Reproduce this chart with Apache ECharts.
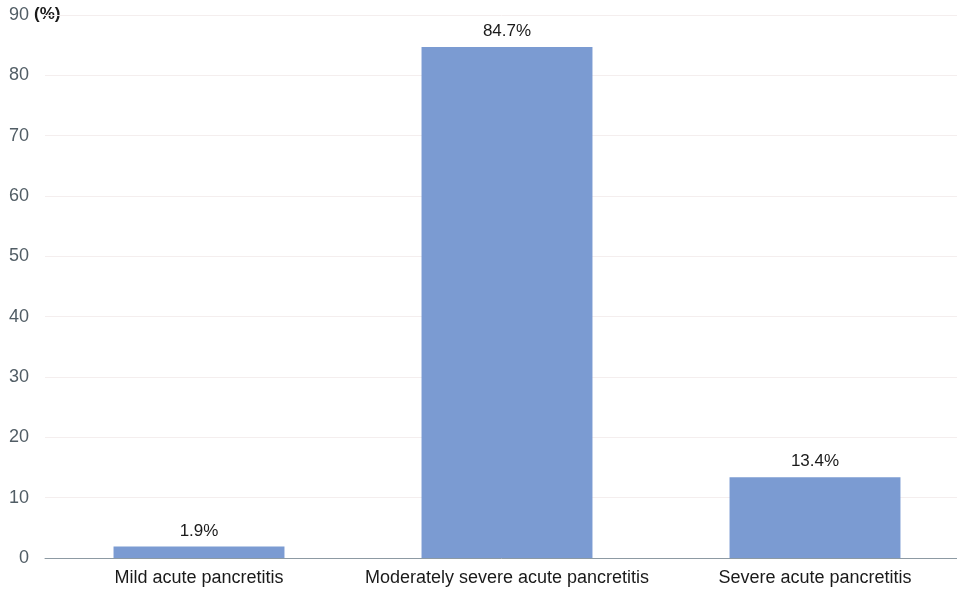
<!DOCTYPE html>
<html>
<head>
<meta charset="utf-8">
<script src="https://cdn.jsdelivr.net/npm/echarts@6/dist/echarts.min.js"></script>
<style>
html,body{margin:0;padding:0;background:#fff;}
#c{width:957px;height:589px;}
</style>
</head>
<body>
<div id="c"></div>
<script>
var categories = ['Mild acute pancretitis', 'Moderately severe acute pancretitis', 'Severe acute pancretitis'];
var values = [1.9, 84.7, 13.4];
var yTicks = [0, 10, 20, 30, 40, 50, 60, 70, 80, 90];
var yUnit = '(%)';

var chart = echarts.init(document.getElementById('c'));
chart.setOption({
  animation: false,
  backgroundColor: '#ffffff',
  textStyle: { fontFamily: 'Liberation Sans, Arial, sans-serif' },
  grid: { left: 45, right: -12, top: 15, bottom: 31, containLabel: false, outerBoundsMode: 'none' },
  graphic: [{
    type: 'text',
    left: 34,
    top: 6,
    style: {
      text: yUnit,
      fill: '#1a1a1a',
      font: 'bold 17px "Liberation Sans", Arial, sans-serif'
    }
  }],
  xAxis: {
    type: 'category',
    data: categories,
    axisLine: { lineStyle: { color: '#8d9aa3', width: 1 } },
    axisTick: { show: false },
    axisLabel: { color: '#1a1a1a', fontSize: 18, margin: 11, interval: 0 }
  },
  yAxis: {
    type: 'value',
    min: yTicks[0],
    max: yTicks[yTicks.length - 1],
    interval: 10,
    axisLine: { show: false },
    axisTick: { show: false },
    axisLabel: { color: '#515d65', fontSize: 18, margin: 16 },
    splitLine: { lineStyle: { color: '#f4eeee', width: 1 } }
  },
  series: [{
    type: 'bar',
    data: values,
    barWidth: '55.5%',
    itemStyle: { color: '#7b9bd2' },
    label: {
      show: true,
      position: 'top',
      distance: 7,
      color: '#1a1a1a',
      fontSize: 17,
      formatter: function (p) { return p.value.toFixed(1) + '%'; }
    }
  }]
});
</script>
</body>
</html>
